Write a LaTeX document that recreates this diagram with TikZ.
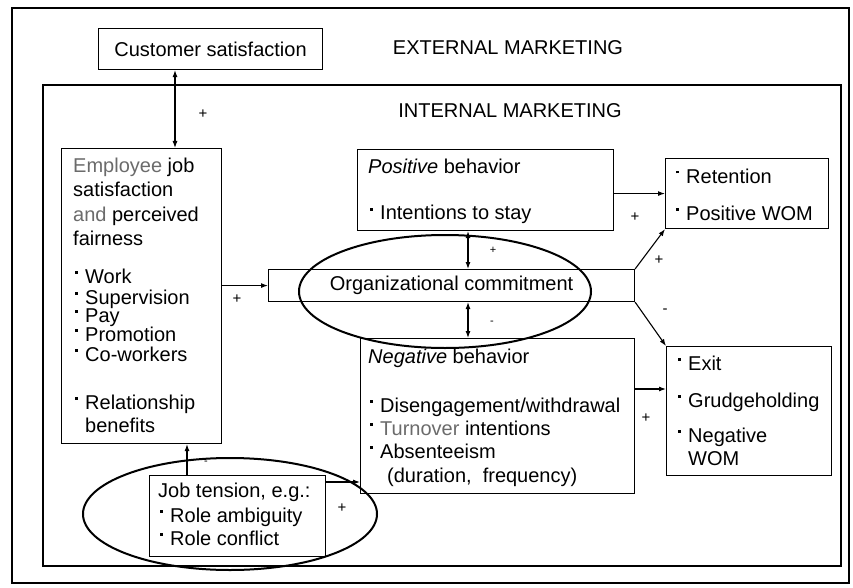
\documentclass[tikz,border=0pt]{standalone}
\usepackage{fontspec}
\setmainfont{Liberation Sans}
\usetikzlibrary{arrows.meta}
\newcommand{\bu}{\makebox[12pt][l]{\hspace{2pt}\raisebox{9.5pt}{\rule{2.6pt}{2.6pt}}}}
\definecolor{soft}{gray}{0.42}
\begin{document}
\begin{tikzpicture}[x=1pt,y=-1pt,
  box/.style={draw, line width=1.1pt, inner sep=0pt, anchor=north west, font=\fontsize{20}{24}\selectfont},
  txt/.style={anchor=base west, inner sep=0pt, font=\fontsize{20}{24}\selectfont},
  arr/.style={line width=1.1pt, -{Latex[length=7pt,width=5pt]}},
  dbl/.style={line width=1.1pt, {Latex[length=7pt,width=5pt]}-{Latex[length=7pt,width=5pt]}},
  sgn/.style={inner sep=0pt, font=\fontsize{15}{15}\selectfont},
  smallsgn/.style={inner sep=0pt, font=\fontsize{11}{11}\selectfont},
  oval/.style={line width=2pt}]
\useasboundingbox (0,0) rectangle (853,588);
% frames
\draw[line width=1.1pt] (12,8) rectangle (849,583);
\draw[line width=1.1pt] (43,85) rectangle (841,566);
\node[txt, anchor=base] (ext) at (508,55) {EXTERNAL MARKETING};
\node[txt, anchor=base] (int) at (510,118) {INTERNAL MARKETING};
% boxes
\node[box, minimum width=224pt, minimum height=41pt] (cust) at (98,28) {Customer satisfaction};
\node[box, minimum width=160pt, minimum height=295pt] (emp) at (61,148) {};
\node[box, minimum width=256pt, minimum height=81pt] (pos) at (357,149) {};
\node[box, minimum width=163pt, minimum height=70pt] (ret) at (665,158) {};
\node[box, minimum width=366pt, minimum height=32pt] (org) at (268,269) {Organizational commitment};
\node[box, minimum width=274pt, minimum height=155pt] (neg) at (360,338) {};
\node[box, minimum width=165pt, minimum height=129pt] (exit) at (666,346) {};
\node[box, minimum width=176pt, minimum height=81pt] (job) at (149,475) {};
% texts
\node[txt] (emptxt) at (73,173) {\parbox[t]{150pt}{%
  \textcolor{soft}{Employee} job\\
  satisfaction\\
  \textcolor{soft}{and} perceived\\
  fairness\\[14pt]
  \bu Work\\[-3pt]
  \bu Supervision\\[-6pt]
  \bu Pay\\[-5pt]
  \bu Promotion\\[-4pt]
  \bu Co-workers\\[24pt]
  \bu Relationship\\[-1pt]
  \hspace*{12pt}benefits}};
\node[txt] (postxt) at (368,174) {\parbox[t]{240pt}{%
  \textit{Positive} behavior\\[22pt]
  \bu Intentions to stay}};
\node[txt] (rettxt) at (674,183) {\parbox[t]{150pt}{%
  \bu Retention\\[13pt]
  \bu Positive WOM}};
\node[txt] (negtxt) at (368,363) {\parbox[t]{262pt}{%
  \textit{Negative} behavior\\[25pt]
  \bu Disengagement/withdrawal\\[-1pt]
  \bu \textcolor{soft}{Turnover} intentions\\[-1pt]
  \bu Absenteeism\\[0pt]
  \hspace*{19pt}(duration,\ \ frequency)}};
\node[txt] (exittxt) at (676,370) {\parbox[t]{150pt}{%
  \bu Exit\\[13pt]
  \bu Grudgeholding\\[11pt]
  \bu Negative\\[-1pt]
  \hspace*{12pt}WOM}};
\node[txt] (jobtxt) at (158,497) {\parbox[t]{165pt}{%
  Job tension, e.g.:\\[1pt]
  \bu Role ambiguity\\[-1pt]
  \bu Role conflict}};
% ovals
\draw[oval] (445,291.5) ellipse [x radius=146pt, y radius=56.5pt];
\draw[oval] (230,514) ellipse [x radius=147pt, y radius=56pt];
% connectors
\draw[dbl] ([xshift=77pt]cust.south west) -- ([xshift=114pt]emp.north west);
\node[sgn] (s1) at (203,114) {+};
\draw[arr] (emp.east |- org.west) -- (org.west);
\node[sgn] (s2) at (237,299) {+};
\draw[dbl] ([xshift=111pt]pos.south west) -- ([xshift=200pt]org.north west);
\node[smallsgn] (s3) at (493,250) {+};
\draw[dbl] ([xshift=200pt]org.south west) -- ([xshift=108pt]neg.north west);
\node[smallsgn] (s4) at (492,323) {-};
\draw[arr] (pos.east |- ret.west) -- (ret.west);
\node[sgn] (s5) at (635,217) {+};
\draw[arr] (org.north east) -- (ret.south west);
\node[sgn] (s6) at (659,260) {+};
\draw[arr] (org.south east) -- (exit.north west);
\node[sgn] (s7) at (665,311) {-};
\draw[arr] ([yshift=-51pt]neg.north east) -- ([yshift=-43pt]exit.north west);
\node[sgn] (s8) at (646,418) {+};
\draw[arr] ([xshift=38pt]job.north west) -- ([xshift=126pt]emp.south west);
\node[smallsgn] (s9) at (206,463) {-};
\draw[arr] ([yshift=-7pt]job.north east) -- ([yshift=-144pt]neg.north west);
\node[sgn] (s10) at (342,508) {+};
\end{tikzpicture}
\end{document}
